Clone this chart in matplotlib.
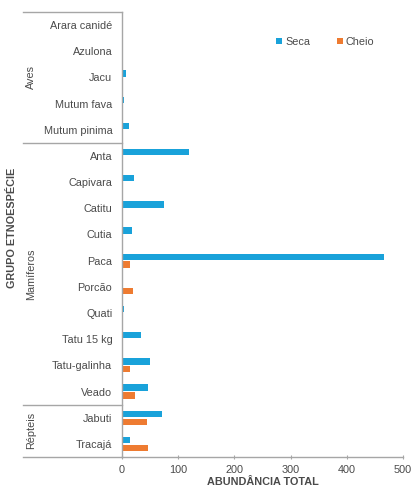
import matplotlib
matplotlib.use("Agg")
import matplotlib.pyplot as plt
import matplotlib.transforms as mtransforms
import numpy as np

plt.rcParams['font.family'] = ['Liberation Sans', 'DejaVu Sans']

categories = ["Arara canidé", "Azulona", "Jacu", "Mutum fava", "Mutum pinima",
              "Anta", "Capivara", "Catitu", "Cutia", "Paca", "Porcão", "Quati",
              "Tatu 15 kg", "Tatu-galinha", "Veado", "Jabuti", "Tracajá"]
seca = [0, 0, 8, 4, 12, 120, 21, 74, 18, 467, 0, 3, 33, 49, 46, 71, 15]
cheio = [2, 0, 1, 0, 2, 0, 0, 0, 0, 15, 20, 0, 0, 15, 23, 45, 47]
groups = ["Aves", "Mamíferos", "Répteis"]
group_sizes = [5, 10, 2]
xticks = [0, 100, 200, 300, 400, 500]

blue = "#19A2DA"
orange = "#EE7B31"
txt = "#4a4a4a"
grid_c = "#A6A6A6"
fs = 7.8

fig = plt.figure(figsize=(4.11, 4.91), dpi=100)
ax = fig.add_axes([122/411, 1-457/491, (403-122)/411, (457-12)/491])

n = len(categories)
y = np.arange(n)
h = 0.24
ax.barh(y - 0.15, seca, height=h, color=blue, label="Seca")
ax.barh(y + 0.15, cheio, height=h, color=orange, label="Cheio")

ax.set_ylim(n - 0.5, -0.5)
ax.set_xlim(0, 500)
ax.set_yticks(y)
ax.set_yticklabels(categories, fontsize=fs, color=txt)
ax.tick_params(axis='y', length=0, pad=7)
ax.set_xticks(xticks)
ax.set_xticklabels([str(v) for v in xticks], fontsize=fs, color=txt)
ax.tick_params(axis='x', length=3, direction='inout', color=grid_c, pad=4)

for s in ['top', 'right']:
    ax.spines[s].set_visible(False)
for s in ['left', 'bottom']:
    ax.spines[s].set_color(grid_c)
    ax.spines[s].set_linewidth(1.0)

trans = mtransforms.blended_transform_factory(ax.transAxes, ax.transData)
left_x = (23 - 122) / 281
bounds = [-0.5]
acc = -0.5
for g in group_sizes:
    acc += g
    bounds.append(acc)
for b in bounds:
    ax.plot([left_x, 0], [b, b], transform=trans, color=grid_c, lw=1.0, clip_on=False)

for g, lo, hi in zip(groups, bounds[:-1], bounds[1:]):
    ax.text((31 - 122) / 281, (lo + hi) / 2, g, transform=trans, rotation=90,
            ha='center', va='center', fontsize=fs, color=txt)

ax.text((12 - 122) / 281, 0.515, "GRUPO ETNOESPÉCIE", transform=ax.transAxes,
        rotation=90, ha='center', va='center', fontsize=fs, fontweight='bold', color=txt)
ax.set_xlabel("ABUNDÂNCIA TOTAL", fontsize=fs, fontweight='bold', color=txt, labelpad=2)

leg = ax.legend(loc='center left', bbox_to_anchor=(0.515, 0.933), ncol=2, frameon=False,
                fontsize=fs, handlelength=0.55, handleheight=0.55, columnspacing=2.4,
                handletextpad=0.3)
for t in leg.get_texts():
    t.set_color(txt)

fig.savefig("out.png", dpi=100)
